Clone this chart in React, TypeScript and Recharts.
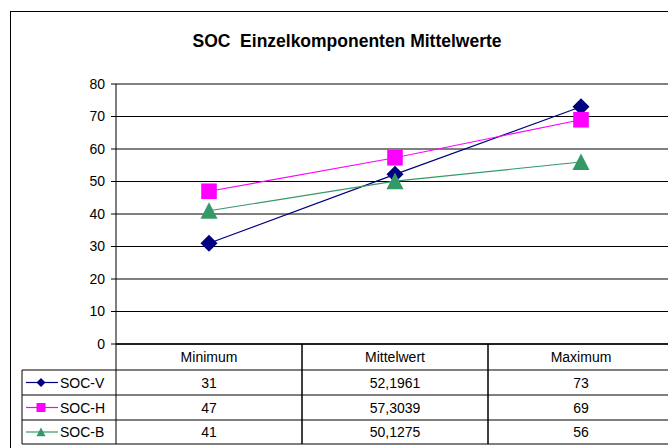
import React from 'react';
import { ComposedChart, Line, XAxis, YAxis, CartesianGrid, ReferenceLine } from 'recharts';

const categories = ['Minimum', 'Mittelwert', 'Maximum'];
const socV = [31, 52.1961, 73];
const socH = [47, 57.3039, 69];
const socB = [41, 50.1275, 56];
const yTicks = [0, 10, 20, 30, 40, 50, 60, 70, 80];
const seriesNames = ['SOC-V', 'SOC-H', 'SOC-B'];
const seriesKeys = ['v', 'h', 'b'];
const seriesValues = [socV, socH, socB];
const seriesColors = ['#000080', '#FF00FF', '#339966'];
const seriesMarkers = ['diamond', 'square', 'triangle'];
const title = 'SOC  Einzelkomponenten Mittelwerte';

const data = categories.map((c, i) => ({ name: c, v: socV[i], h: socH[i], b: socB[i] }));

const FONT = '"Liberation Sans", Arial, sans-serif';
const ROWS = [0, 26, 51, 76, 100];
const LEGEND_W = 94;

const fmt = (v: number) => String(v).replace('.', ',');

const Marker = ({ kind, cx, cy, s, color }: any) => {
  if (kind === 'diamond')
    return <polygon points={`${cx},${cy - s} ${cx + s},${cy} ${cx},${cy + s} ${cx - s},${cy}`} fill={color} />;
  if (kind === 'square')
    return <rect x={cx - s} y={cy - s} width={2 * s} height={2 * s} fill={color} />;
  return <polygon points={`${cx},${cy - s} ${cx + s},${cy + s * 0.95} ${cx - s},${cy + s * 0.95}`} fill={color} />;
};

const makeDot = (si: number, s: number) => (p: any) => (
  <Marker key={`d${si}-${p.index}`} kind={seriesMarkers[si]} cx={p.cx} cy={p.cy} s={s} color={seriesColors[si]} />
);

const renderTableTick = (props: any) => {
  const { x, y, payload } = props;
  const half = payload && payload.offset ? payload.offset : 93;
  const l = x - half;
  const r = x + half;
  const ci = categories.indexOf(payload.value);
  const ln = { stroke: '#000', strokeWidth: 1 };
  const legendL = l - LEGEND_W;
  return (
    <g key={`t${ci}`}>
      <line x1={l} x2={l} y1={y} y2={y + ROWS[4]} {...ln} />
      <line x1={r} x2={r} y1={y} y2={y + ROWS[4]} {...ln} />
      {ROWS.slice(1).map((ro, k) => (
        <line key={`h${k}`} x1={ci === 0 ? legendL : l} x2={r} y1={y + ro} y2={y + ro} {...ln} />
      ))}
      <text x={x} y={(y + ROWS[0] + y + ROWS[1]) / 2 + 5} textAnchor="middle" fontSize={14} fontFamily={FONT} fill="#000">
        {payload.value}
      </text>
      {seriesValues.map((vals, si) => (
        <text key={`v${si}`} x={x} y={(y + ROWS[si + 1] + y + ROWS[si + 2]) / 2 + 5} textAnchor="middle" fontSize={14} fontFamily={FONT} fill="#000">
          {fmt(vals[ci])}
        </text>
      ))}
      {ci === 0 && (
        <g>
          <line x1={legendL} x2={legendL} y1={y + ROWS[1]} y2={y + ROWS[4]} {...ln} />
          {seriesNames.map((nm, si) => {
            const cy = (y + ROWS[si + 1] + y + ROWS[si + 2]) / 2;
            return (
              <g key={`l${si}`}>
                <line x1={legendL + 4} x2={legendL + 36} y1={cy} y2={cy} stroke={seriesColors[si]} strokeWidth={1.2} />
                <Marker kind={seriesMarkers[si]} cx={legendL + 19} cy={cy} s={4.5} color={seriesColors[si]} />
                <text x={legendL + 38} y={cy + 5} fontSize={14} fontFamily={FONT} fill="#000">{nm}</text>
              </g>
            );
          })}
        </g>
      )}
    </g>
  );
};

export default function App() {
  return (
    <div style={{ position: 'absolute', left: 0, top: 0, width: 668, height: 448, overflow: 'hidden', background: '#fff' }}>
      <div style={{ position: 'absolute', left: 10, top: 11, width: 900, height: 900, border: '1px solid #000' }} />
      <svg style={{ position: 'absolute', left: 0, top: 0 }} width={668} height={60}>
        <text x={347} y={46.5} textAnchor="middle" fontWeight="bold" fontSize={19} fontFamily={FONT} fill="#000"
          textLength={309} lengthAdjust="spacingAndGlyphs" style={{ whiteSpace: 'pre' }}>
          {title}
        </text>
      </svg>
      <div style={{ position: 'absolute', left: 0, top: 0 }}>
        <ComposedChart width={680} height={448} data={data} margin={{ top: 84, right: 6, bottom: 0, left: 0 }}>
          <CartesianGrid horizontal vertical={false} stroke="#000" strokeWidth={1} />
          <ReferenceLine y={80} stroke="#808080" strokeWidth={1.5} />
          <XAxis dataKey="name" scale="band" height={104} tickSize={0} tickMargin={0} interval={0}
            axisLine={{ stroke: '#000', strokeWidth: 1.5 }} tickLine={false} tick={renderTableTick} />
          <YAxis width={116} type="number" domain={[0, 80]} ticks={yTicks} interval={0}
            axisLine={{ stroke: '#000' }} tickLine={{ stroke: '#000' }} tickSize={5} tickMargin={6}
            tick={{ fill: '#000', fontSize: 14, fontFamily: FONT }} />
          {seriesKeys.map((k, si) => (
            <Line key={k} dataKey={k} stroke={seriesColors[si]} strokeWidth={1.2} isAnimationActive={false}
              dot={makeDot(si, si === 1 ? 7.8 : 8.5)} activeDot={false} />
          ))}
        </ComposedChart>
      </div>
    </div>
  );
}
